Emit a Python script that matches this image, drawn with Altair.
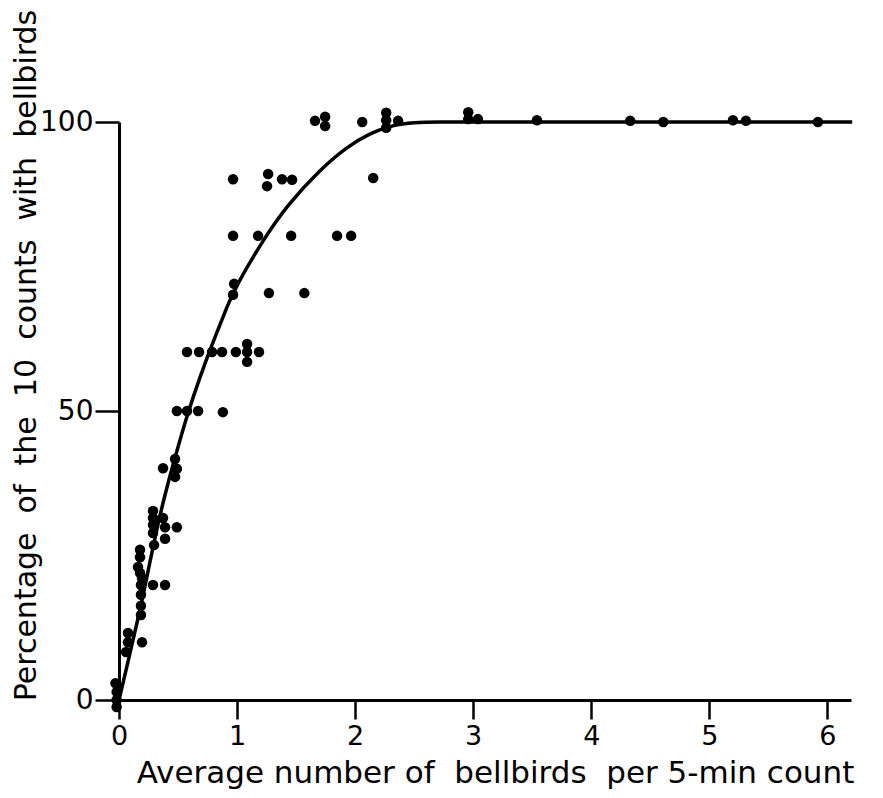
import altair as alt
import pandas as pd

# Scatter points (average bellbirds per count, % of 10 counts with bellbirds)
pt_x = [
    -0.03, -0.02, -0.02, -0.02,
    0.06, 0.076, 0.076, 0.195,
    0.186, 0.186, 0.186, 0.186, 0.288, 0.39, 0.195, 0.178, 0.161, 0.178, 0.178,
    0.297, 0.39, 0.288, 0.288, 0.39, 0.49, 0.288, 0.373, 0.288,
    0.475, 0.373, 0.49, 0.475,
    0.49, 0.576, 0.67, 0.88,
    0.576, 0.678, 0.788, 0.873, 0.99, 1.085, 1.186, 1.085, 1.085,
    0.975, 0.966, 1.27, 1.57,
    0.966, 1.178, 1.458, 1.847, 1.966,
    0.966, 1.263, 1.254, 1.381, 1.466, 2.153,
    1.66, 1.746, 1.746, 2.06, 2.263, 2.263, 2.263, 2.364,
    2.958, 2.958, 3.04, 3.54, 4.33, 4.61, 5.20, 5.31, 5.92,
]
pt_y = [
    2.9, 1.4, 0.0, -1.2,
    8.3, 10.0, 11.6, 10.0,
    14.7, 16.3, 18.2, 19.9, 19.9, 19.9, 21.1, 22.0, 23.0, 24.7, 26.0,
    26.8, 27.9, 28.9, 30.3, 29.9, 29.9, 31.5, 31.5, 32.7,
    41.7, 40.1, 40.0, 38.6,
    50, 50, 50, 49.8,
    60.2, 60.2, 60.2, 60.2, 60.2, 60.2, 60.2, 61.6, 58.5,
    72.0, 70.1, 70.4, 70.4,
    80.3, 80.3, 80.3, 80.3, 80.3,
    90.1, 91.0, 88.9, 90.1, 90.0, 90.3,
    100.2, 100.9, 99.3, 100, 101.6, 100.3, 99.0, 100.2,
    101.7, 100.5, 100.5, 100.3, 100.2, 100, 100.3, 100.2, 100,
]

# Fitted curve
curve_x = [-0.01, 0.0, 0.093, 0.178, 0.246, 0.33, 0.415, 0.5, 0.585, 0.686, 0.788,
           0.924, 0.983, 1.22, 1.424, 1.70, 1.93, 2.13, 2.32, 2.5, 2.69, 3.0, 6.2, 6.21]
curve_y = [-1.0, 0.0, 8.1, 15.5, 22.3, 30.6, 37.6, 43.8, 49.8, 55.9, 61.5,
           68.5, 71.3, 79.6, 85.6, 91.7, 95.7, 98.1, 99.5, 99.9, 100, 100, 100, 100]

x_ticks = [0, 1, 2, 3, 4, 5, 6]
y_ticks = [0, 50, 100]

points = pd.DataFrame({"x": pt_x, "y": pt_y})
curve = pd.DataFrame({"x": curve_x, "y": curve_y})

FONT = "DejaVu Sans"
NB = "\u00a0"

xscale = alt.Scale(domain=[0, 6.2], nice=False, zero=False)
yscale = alt.Scale(domain=[0, 100], nice=False, zero=False)

x_title = ("Average number of" + NB + " bellbirds" + NB + " per 5-min count")
y_title = ("Percentage" + NB + " of" + NB + " the" + NB + " 10" + NB + " counts" + NB
           + " with" + NB + " bellbirds")

xaxis = alt.Axis(
    values=x_ticks, format="d", grid=False,
    title=x_title,
    domainColor="black", domainWidth=3,
    tickColor="black", tickWidth=2.5, tickSize=19,
    labelFont=FONT, labelFontSize=27, labelColor="black",
    labelPadding=4, labelFlush=False, labelOverlap=False,
    titleFont=FONT, titleFontSize=31, titleFontWeight="normal", titleColor="black",
    titleX=376, titleY=73, titleBaseline="middle",
)
yaxis = alt.Axis(
    values=y_ticks, format="d", grid=False,
    title=y_title,
    domainColor="black", domainWidth=3,
    tickColor="black", tickWidth=2.5, tickSize=24,
    labelFont=FONT, labelFontSize=28, labelColor="black",
    labelPadding=2, labelFlush=False, labelOverlap=False,
    titleFont=FONT, titleFontSize=30, titleFontWeight="normal", titleColor="black",
    titleX=-93, titleY=233, titleBaseline="middle",
)

line = alt.Chart(curve).mark_line(
    color="black", strokeWidth=3.5, interpolate="basis", clip=False
).encode(
    x=alt.X("x:Q", scale=xscale, axis=xaxis),
    y=alt.Y("y:Q", scale=yscale, axis=yaxis),
)

dots = alt.Chart(points).mark_circle(
    color="black", size=110, opacity=1, clip=False
).encode(
    x=alt.X("x:Q", scale=xscale),
    y=alt.Y("y:Q", scale=yscale),
)

chart = alt.layer(line, dots).properties(
    width=732, height=578,
    autosize=alt.AutoSizeParams(type="none"),
    padding={"left": 111, "top": 114, "right": 24, "bottom": 98},
    background="white",
).configure_view(stroke=None)

chart.save("out.html", embed_options={"renderer": "svg", "actions": False})
